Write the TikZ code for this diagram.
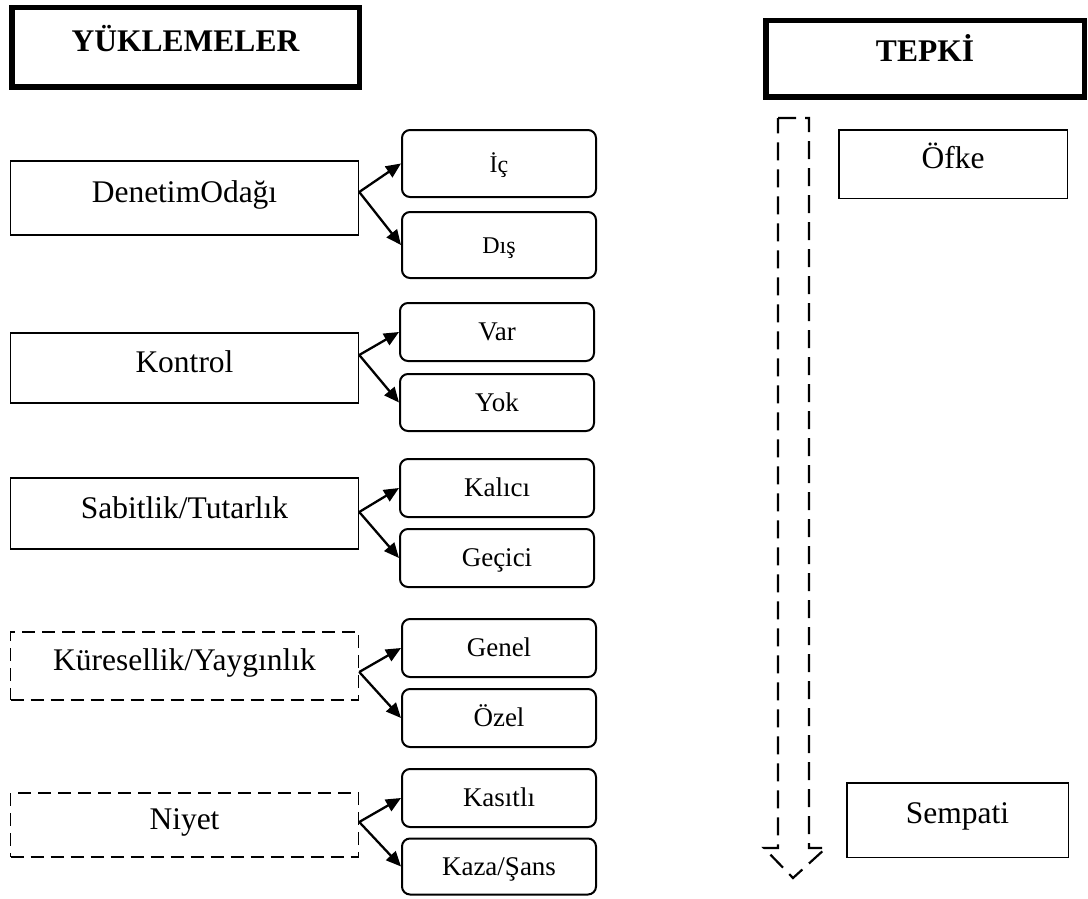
\documentclass[tikz,border=0pt]{standalone}
\usepackage{fontspec}
\setmainfont{Liberation Serif}
\usetikzlibrary{arrows.meta}
\begin{document}
\begin{tikzpicture}[x=1pt,y=-1pt,
  lbox/.style={draw, line width=1.5pt, inner sep=0pt, minimum width=348pt,
    font=\fontsize{31.5}{36}\selectfont, text height=22pt, text depth=13pt},
  dbox/.style={lbox, dash pattern=on 13pt off 7pt},
  rbox/.style={draw, line width=2pt, rounded corners=8pt, inner sep=0pt,
    minimum width=194pt, font=\fontsize{27}{30}\selectfont, text height=18pt, text depth=1pt},
  hbox/.style={draw, line width=5.5pt, inner sep=0pt,
    font=\bfseries\fontsize{31.5}{36}\selectfont, text height=22pt, text depth=14pt},
  tbox/.style={draw, line width=1.5pt, inner sep=0pt,
    font=\fontsize{31.5}{36}\selectfont, text height=22pt, text depth=13pt},
  arr/.style={line width=2.3pt, -{Triangle[length=15pt,width=13pt]}},
  darrow/.style={line width=2.2pt, dash pattern=on 18pt off 9pt},
]
\useasboundingbox (0,0) rectangle (1088,899);

% headers
\node[hbox, minimum width=347.5pt, minimum height=79.5pt] (yuk) at (185.5,47.5) {YÜKLEMELER};
\node[hbox, minimum width=318.5pt, minimum height=76.5pt, text depth=17pt] (tepki) at (925,59) {TEPKİ};

% left boxes
\node[lbox, minimum height=74pt] (denetim) at (184.5,198) {DenetimOdağı};
\node[lbox, minimum height=70pt] (kontrol) at (184.5,368) {Kontrol};
\node[lbox, minimum height=71pt] (sabit) at (184.5,513.5) {Sabitlik/Tutarlık};
\node[dbox, minimum height=68pt] (kures) at (184.5,666) {Küresellik/Yaygınlık};
\node[dbox, minimum height=64pt] (niyet) at (184.5,825) {Niyet};

% right boxes
\node[rbox, minimum height=67pt, font=\fontsize{24}{28}\selectfont] (ic) at (499,163.5) {İç};
\node[rbox, minimum height=66pt, font=\fontsize{24}{28}\selectfont] (dis) at (499,245) {Dış};
\node[rbox, minimum height=58pt] (var) at (497,332) {Var};
\node[rbox, minimum height=57pt] (yok) at (497,402.5) {Yok};
\node[rbox, minimum height=58pt] (kalici) at (497,488) {Kalıcı};
\node[rbox, minimum height=58pt] (gecici) at (497,558) {Geçici};
\node[rbox, minimum height=58pt] (genel) at (499,648) {Genel};
\node[rbox, minimum height=58pt] (ozel) at (499,718) {Özel};
\node[rbox, minimum height=58pt] (kasitli) at (499,798) {Kasıtlı};
\node[rbox, minimum height=56pt] (kaza) at (499,866.5) {Kaza/Şans};

% branch points
\coordinate (b1) at ([yshift=6pt]denetim.east);
\coordinate (b2) at ([yshift=13pt]kontrol.east);
\coordinate (b3) at ([yshift=1.5pt]sabit.east);
\coordinate (b4) at ([yshift=-6pt]kures.east);
\coordinate (b5) at ([yshift=3pt]niyet.east);

\draw[arr] (b1) -- (ic.west);
\draw[arr] (b1) -- (dis.west);
\draw[arr] (b2) -- (var.west);
\draw[arr] (b2) -- (yok.west);
\draw[arr] (b3) -- (kalici.west);
\draw[arr] (b3) -- (gecici.west);
\draw[arr] (b4) -- (genel.west);
\draw[arr] (b4) -- (ozel.west);
\draw[arr] (b5) -- (kasitli.west);
\draw[arr] (b5) -- (kaza.west);

% reaction boxes
\node[tbox, minimum width=228.5pt, minimum height=68.5pt] (ofke) at (953,164) {Öfke};
\node[tbox, minimum width=221.5pt, minimum height=74.5pt, text depth=15pt] (sempati) at (957.5,820) {Sempati};

% dashed block arrow
\draw[darrow] (778,118) -- (809,118) -- (809,848) -- (826,848) -- (793,878) -- (764,848) -- (778,848) -- cycle;
\end{tikzpicture}
\end{document}
